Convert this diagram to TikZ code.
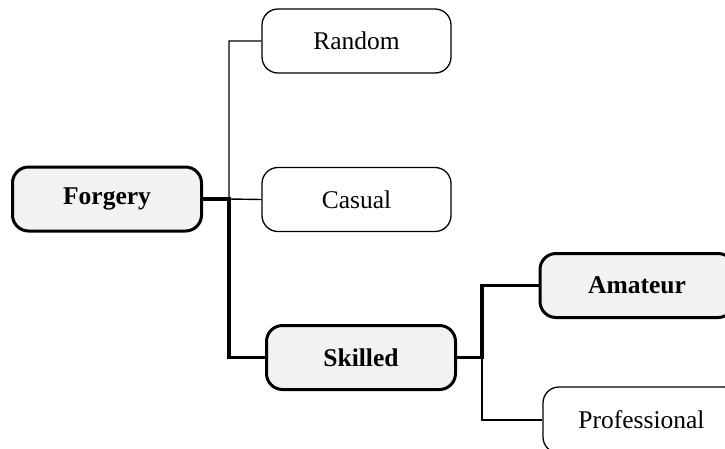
\documentclass[tikz,border=0pt]{standalone}
\usepackage{fontspec}
\setmainfont{Liberation Serif}
\definecolor{boxgray}{HTML}{F2F2F2}
\tikzset{
  leafbox/.style={draw=black, line width=1.3pt, rounded corners=16pt, fill=white,
    minimum width=189pt, minimum height=64pt, inner sep=0pt,
    font=\fontsize{25.5}{30}\selectfont},
  mainbox/.style={draw=black, line width=3pt, rounded corners=16pt, fill=boxgray,
    minimum width=189pt, minimum height=64pt, inner sep=0pt,
    font=\fontsize{25.5}{30}\selectfont\bfseries},
  thinline/.style={line width=1.4pt},
  thickline/.style={line width=3.2pt}
}
\begin{document}
\begin{tikzpicture}[x=1pt,y=-1pt]
\useasboundingbox (0,0) rectangle (725,448);
\begin{scope}
\clip (0,0) rectangle (725,448);
% nodes
\node[mainbox] (forgery) at (107,199) {Forgery};
\node[leafbox] (random) at (356.5,41) {Random};
\node[leafbox] (casual) at (356.5,199.5) {Casual};
\node[mainbox] (skilled) at (361,357.5) {Skilled};
\node[mainbox, minimum width=194pt] (amateur) at (637,285.5) {Amateur};
\node[leafbox, minimum width=197pt, minimum height=66pt] (prof) at (641.5,420) {Professional};
% junction coordinates
\coordinate (j1) at (229,199);
\coordinate (j2) at (482,357.5);
% thin connectors
\draw[thinline] (casual.west) -- (j1) |- (random.west);
\draw[thinline] (j2) |- (prof.west);
% thick connectors
\draw[thickline] (forgery.east) -- (j1) |- (skilled.west);
\draw[thickline] (skilled.east) -- (j2) |- (amateur.west);
\end{scope}
\end{tikzpicture}
\end{document}
